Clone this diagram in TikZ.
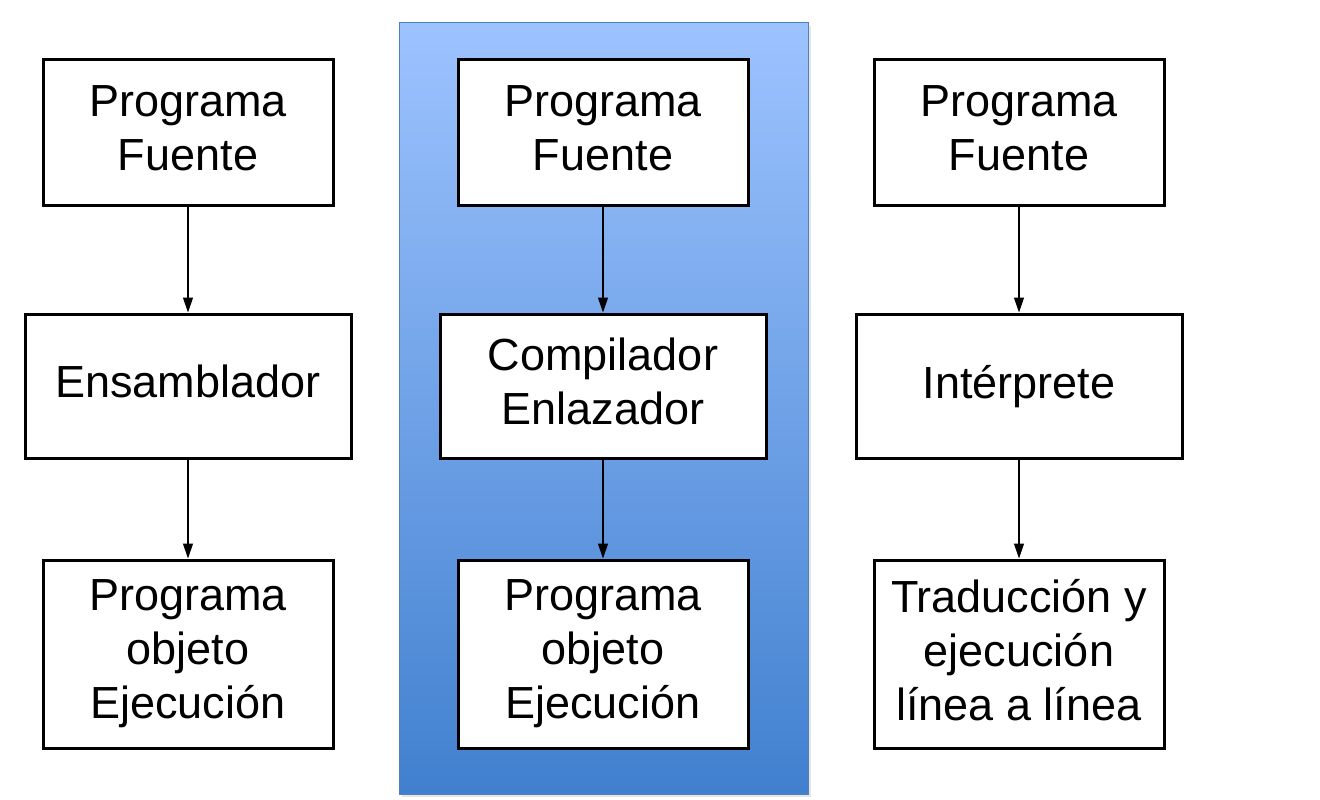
\documentclass[tikz,border=0pt]{standalone}
\usepackage{fontspec}
\setmainfont{Liberation Sans}
\usetikzlibrary{arrows.meta,shadows}
\definecolor{bgtop}{RGB}{157,195,255}
\definecolor{bgbot}{RGB}{65,128,207}
\definecolor{bgedge}{RGB}{79,129,189}
\begin{document}
\begin{tikzpicture}[x=1pt,y=-1pt,
  boxstyle/.style={draw=black,line width=3pt,fill=white,inner sep=0pt,align=center,
    text depth=9pt,
    font=\fontsize{45}{54}\selectfont},
  narrowbox/.style={boxstyle,minimum width=290pt,minimum height=145pt},
  widebox/.style={boxstyle,minimum width=326pt,minimum height=144pt},
  tallbox/.style={boxstyle,minimum width=290pt,minimum height=188pt},
  flow/.style={line width=1.2pt,-{Triangle[length=15pt,width=10pt]}}]
\useasboundingbox[fill=white] (0,0) rectangle (1320,800);
% background panel
\node[draw=bgedge,line width=1pt,top color=bgtop,bottom color=bgbot,
  minimum width=409pt,minimum height=771pt,inner sep=0pt,
  drop shadow={opacity=0.2,shadow xshift=3pt,shadow yshift=-3pt}] (panel) at (603.5,408.5) {};
% column 1
\node[narrowbox] (a1) at (188,132.5) {Programa\\Fuente};
\node[widebox]   (a2) at (188,386) {Ensamblador};
\node[tallbox]   (a3) at (188,654) {Programa\\objeto\\Ejecución};
% column 2
\node[narrowbox] (b1) at (603,132.5) {Programa\\Fuente};
\node[widebox]   (b2) at (603,386) {Compilador\\Enlazador};
\node[tallbox]   (b3) at (603,654) {Programa\\objeto\\Ejecución};
% column 3
\node[narrowbox] (c1) at (1019,132.5) {Programa\\Fuente};
\node[widebox]   (c2) at (1019,386) {Intérprete};
\node[tallbox]   (c3) at (1019,654) {Traducción y\\ejecución\\línea a línea};
% connectors
\draw[flow] (a1) -- (a2);
\draw[flow] (a2) -- (a3);
\draw[flow] (b1) -- (b2);
\draw[flow] (b2) -- (b3);
\draw[flow] (c1) -- (c2);
\draw[flow] (c2) -- (c3);
\end{tikzpicture}
\end{document}
